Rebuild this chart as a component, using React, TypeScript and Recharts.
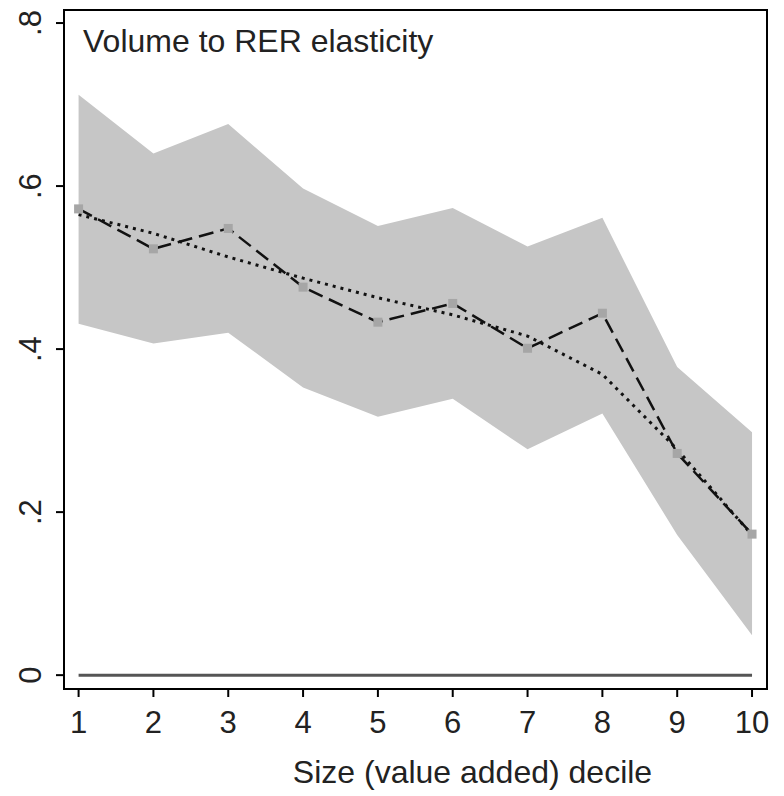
import { ComposedChart, Area, Line, XAxis, YAxis, ReferenceLine, ReferenceArea } from "recharts"

const deciles = [1, 2, 3, 4, 5, 6, 7, 8, 9, 10]
const estimate = [0.572, 0.523, 0.548, 0.476, 0.433, 0.456, 0.401, 0.444, 0.272, 0.173]
const fitted = [0.565, 0.542, 0.513, 0.487, 0.463, 0.442, 0.416, 0.369, 0.277, 0.172]
const ciLower = [0.431, 0.407, 0.42, 0.353, 0.317, 0.339, 0.277, 0.321, 0.172, 0.049]
const ciUpper = [0.712, 0.64, 0.676, 0.597, 0.551, 0.573, 0.526, 0.561, 0.378, 0.298]
const yTicks = [0, 0.2, 0.4, 0.6, 0.8]
const yTickLabels = ["0", ".2", ".4", ".6", ".8"]

const data = deciles.map((d, i) => ({
  decile: d,
  est: estimate[i],
  fit: fitted[i],
  band: [ciLower[i], ciUpper[i]],
}))

const X_DOMAIN: [number, number] = [0.805, 10.2]
const Y_DOMAIN: [number, number] = [-0.017, 0.816]
const FONT = "'Liberation Sans', Arial, sans-serif"

// rotated y tick labels, reading bottom to top
function YTick(props: any) {
  const { x, y, payload } = props
  const idx = yTicks.indexOf(payload.value)
  const cx = x - 23
  return (
    <text
      x={cx}
      y={y}
      transform={`rotate(-90 ${cx} ${y})`}
      textAnchor="middle"
      dominantBaseline="central"
      fontSize={31}
      fontFamily={FONT}
      fill="#222"
    >
      {yTickLabels[idx]}
    </text>
  )
}

function Marker(props: any) {
  const { cx, cy, index } = props
  return <rect key={`m-${index}`} x={cx - 4.5} y={cy - 4.5} width={9} height={9} fill="#a6a6a6" />
}

export default function App() {
  return (
    <div style={{ position: "absolute", left: 0, top: 0, background: "#fff" }}>
      <ComposedChart
        width={784}
        height={796}
        data={data}
        margin={{ top: 10, right: 17, bottom: 7, left: 0 }}
        style={{ fontFamily: FONT }}
      >
        <XAxis
          dataKey="decile"
          type="number"
          domain={X_DOMAIN}
          ticks={deciles}
          axisLine={false}
          tickLine={{ stroke: "#000", strokeWidth: 2 }}
          tickSize={8}
          tickMargin={14}
          height={100}
          tick={{ fontSize: 31, fill: "#222", fontFamily: FONT }}
          label={{
            value: "Size (value added) decile",
            position: "insideBottom",
            offset: 6,
            dx: 57,
            fontSize: 32,
            fill: "#222",
            fontFamily: FONT,
          }}
        />
        <YAxis
          type="number"
          domain={Y_DOMAIN}
          ticks={yTicks}
          axisLine={false}
          tickLine={{ stroke: "#000", strokeWidth: 2 }}
          tickSize={8}
          tickMargin={2}
          width={64}
          tick={<YTick />}
        />
        {/* confidence band */}
        <Area
          dataKey="band"
          type="linear"
          stroke="none"
          fill="#c6c6c6"
          fillOpacity={1}
          isAnimationActive={false}
        />
        <ReferenceLine
          segment={[
            { x: 1, y: 0 },
            { x: 10, y: 0 },
          ]}
          stroke="#555"
          strokeWidth={3}
        />
        <Line
          dataKey="fit"
          type="linear"
          stroke="#111"
          strokeWidth={3}
          strokeDasharray="3 5"
          dot={false}
          isAnimationActive={false}
        />
        <Line
          dataKey="est"
          type="linear"
          stroke="#111"
          strokeWidth={2.5}
          strokeDasharray="15 7"
          dot={<Marker />}
          isAnimationActive={false}
        />
        {/* plot frame + inner title */}
        <ReferenceArea
          x1={X_DOMAIN[0]}
          x2={X_DOMAIN[1]}
          y1={Y_DOMAIN[0]}
          y2={Y_DOMAIN[1]}
          fill="none"
          stroke="#000"
          strokeWidth={2}
          ifOverflow="visible"
          label={{
            value: "Volume to RER elasticity",
            position: "insideTopLeft",
            offset: 19,
            fontSize: 32,
            fill: "#222",
            fontFamily: FONT,
          }}
        />
      </ComposedChart>
    </div>
  )
}
